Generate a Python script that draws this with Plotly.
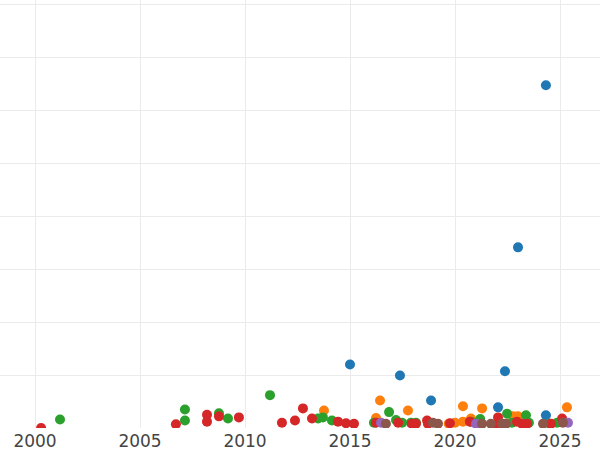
import plotly.graph_objects as go

# decimal years and values
blue_x = [2024.33, 2023.0, 2015.0, 2017.38, 2022.38, 2018.86, 2022.05, 2024.33]
blue_y = [6.47, 3.41, 1.20, 0.99, 1.07, 0.52, 0.39, 0.24]

orange_x = [2013.76, 2016.43, 2016.24, 2017.76, 2019.7, 2020.0, 2020.38, 2020.38,
            2020.76, 2021.29, 2022.76, 2023.0, 2025.33]
orange_y = [0.33, 0.52, 0.19, 0.33, 0.08, 0.10, 0.41, 0.12,
            0.18, 0.37, 0.22, 0.22, 0.39]

green_x = [2001.19, 2007.14, 2007.14, 2008.76, 2009.19, 2011.19, 2013.48, 2013.71,
           2014.14, 2016.14, 2016.86, 2017.19, 2017.48, 2017.9, 2018.14, 2020.76,
           2021.2, 2022.48, 2022.71, 2023.38, 2023.52, 2024.52, 2024.86, 2025.1]
green_y = [0.16, 0.35, 0.14, 0.28, 0.18, 0.62, 0.18, 0.20,
           0.14, 0.10, 0.30, 0.15, 0.10, 0.10, 0.10, 0.12,
           0.17, 0.27, 0.10, 0.24, 0.10, 0.08, 0.10, 0.12]

red_x = [2000.29, 2006.71, 2008.19, 2008.19, 2008.76, 2009.71, 2011.76, 2012.38,
         2012.76, 2013.19, 2014.43, 2014.81, 2015.19, 2016.24, 2017.29, 2017.95,
         2018.14, 2018.67, 2018.71, 2019.76, 2020.71, 2022.05, 2022.0, 2022.95,
         2023.19, 2023.43, 2024.57, 2025.1]
red_y = [0.0, 0.07, 0.25, 0.12, 0.22, 0.20, 0.10, 0.14,
         0.37, 0.18, 0.12, 0.09, 0.08, 0.10, 0.10, 0.08,
         0.08, 0.14, 0.08, 0.09, 0.12, 0.20, 0.08, 0.12,
         0.08, 0.08, 0.08, 0.18]

purple_x = [2016.48, 2021.0, 2025.38]
purple_y = [0.10, 0.08, 0.10]

brown_x = [2016.71, 2018.95, 2019.19, 2021.29, 2021.71, 2022.24, 2022.43, 2024.19, 2025.14]
brown_y = [0.08, 0.10, 0.08, 0.08, 0.08, 0.08, 0.08, 0.08, 0.10]

series = [
    (blue_x, blue_y, '#1f77b4'),
    (orange_x, orange_y, '#ff7f0e'),
    (green_x, green_y, '#2ca02c'),
    (red_x, red_y, '#d62728'),
    (purple_x, purple_y, '#9467bd'),
    (brown_x, brown_y, '#8c564b'),
]

fig = go.Figure()
for xs, ys, col in series:
    fig.add_trace(go.Scatter(x=xs, y=ys, mode='markers',
                             marker=dict(size=10, color=col, line=dict(width=0)),
                             showlegend=False))

fig.update_layout(
    width=600, height=450,
    margin=dict(l=0, r=0, t=0, b=22),
    plot_bgcolor='white', paper_bgcolor='white',
    font=dict(family='DejaVu Sans', size=17, color='#444444'),
)
fig.update_xaxes(range=[1998.333, 2026.905], tickvals=[2000, 2005, 2010, 2015, 2020, 2025],
                 showgrid=True, gridcolor='#ebebeb', gridwidth=1, zeroline=False,
                 showline=False, ticks='', ticklabelstandoff=1)
fig.update_yaxes(range=[0, 8.08], dtick=1, showticklabels=False,
                 showgrid=True, gridcolor='#ebebeb', gridwidth=1, zeroline=False,
                 showline=False, ticks='')

# drop the page's default body margin so the figure sits at the window corner
fig.write_html("out.html", config={'displayModeBar': False},
               post_script="document.body.style.margin='0';")
